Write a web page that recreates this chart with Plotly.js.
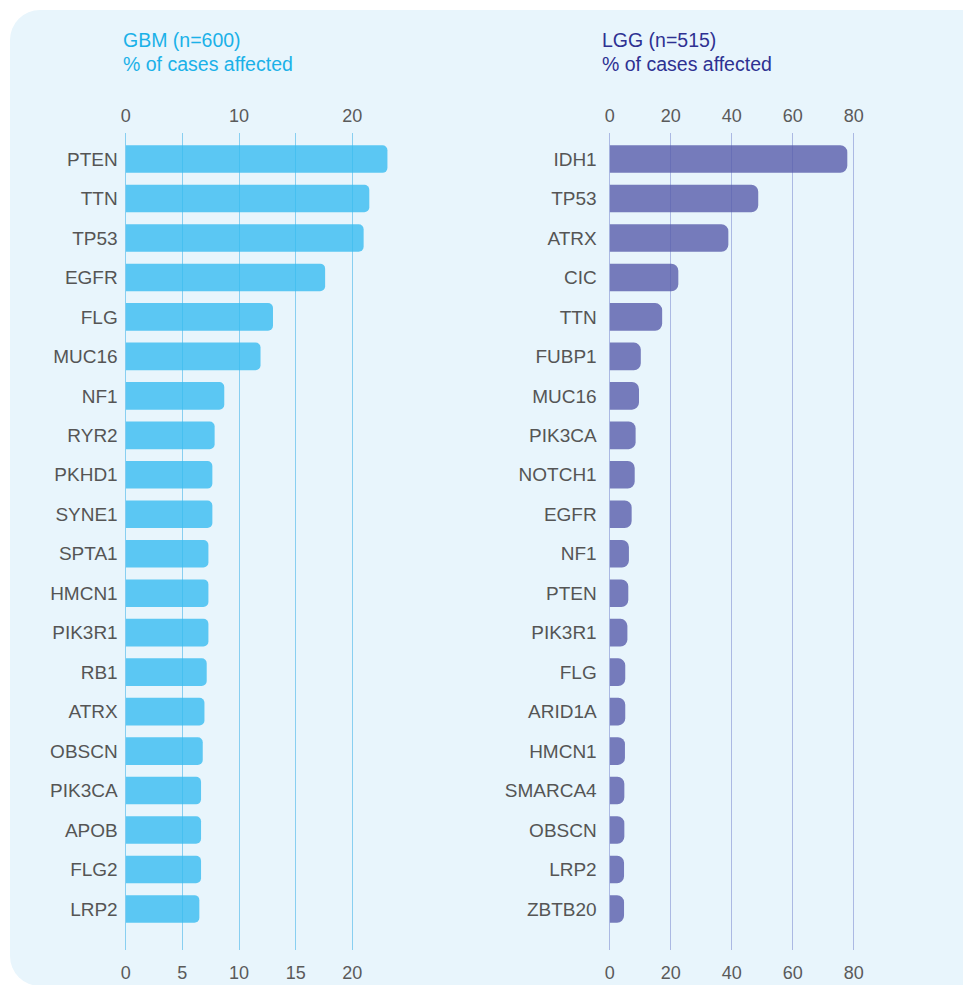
<!DOCTYPE html>
<html>
<head>
<meta charset="utf-8">
<script src="https://cdn.plot.ly/plotly-3.0.1.min.js"></script>
<style>
  html, body { margin: 0; padding: 0; background: #ffffff; }
  #bg { position: absolute; left: 10px; top: 10px; width: 990px; height: 976px;
        background: #e8f5fc; border-radius: 30px; }
  #chart { position: absolute; left: 0; top: 0; width: 963px; height: 985px; }
</style>
</head>
<body>
<div id="bg"></div>
<div id="chart"></div>
<script>
// ---- Data ----
const gbmGenes = ["PTEN","TTN","TP53","EGFR","FLG","MUC16","NF1","RYR2","PKHD1","SYNE1",
                  "SPTA1","HMCN1","PIK3R1","RB1","ATRX","OBSCN","PIK3CA","APOB","FLG2","LRP2"];
const gbmValues = [23.1, 21.5, 21.0, 17.6, 13.0, 11.9, 8.7, 7.85, 7.65, 7.65,
                   7.3, 7.3, 7.3, 7.15, 6.95, 6.8, 6.65, 6.65, 6.65, 6.5];
const lggGenes = ["IDH1","TP53","ATRX","CIC","TTN","FUBP1","MUC16","PIK3CA","NOTCH1","EGFR",
                  "NF1","PTEN","PIK3R1","FLG","ARID1A","HMCN1","SMARCA4","OBSCN","LRP2","ZBTB20"];
const lggValues = [77.9, 48.7, 38.9, 22.5, 17.2, 10.2, 9.6, 8.5, 8.2, 7.2,
                   6.3, 6.1, 5.8, 5.1, 5.1, 5.0, 4.8, 4.8, 4.7, 4.7];
const gbmTopTicks = [0, 10, 20];
const gbmBottomTicks = [0, 5, 10, 15, 20];
const lggTicks = [0, 20, 40, 60, 80];
const gbmTitle = ["GBM (n=600)", "% of cases affected"];
const lggTitle = ["LGG (n=515)", "% of cases affected"];

// ---- Layout geometry (pixels) ----
const W = 963, H = 985;
const px = v => v / W;
const py = v => 1 - v / H;
const gbmRange = [0, 25];
const gbmX0 = 125.7, gbmScale = 11.33;
const lggRange = [0, 85];
const lggX0 = 609.7, lggScale = 3.05;
const plotTop = 133, plotBottom = 950;

const tickFont = {family: "Liberation Sans, Arial, sans-serif", size: 18, color: "#5a5a5a"};
const catFont = {family: "Liberation Sans, Arial, sans-serif", size: 19, color: "#555555"};

const gbmColor = "rgba(55,188,240,0.8)";
const lggColor = "rgba(88,93,170,0.8)";
const gbmGrid = "rgba(40,170,230,0.5)";
const lggGrid = "rgba(120,135,205,0.55)";

const traces = [
  {type: "bar", orientation: "h", y: gbmGenes, x: gbmValues, xaxis: "x", yaxis: "y",
   width: 0.7, marker: {color: gbmColor, cornerradius: 5}, hoverinfo: "x+y"},
  {type: "bar", orientation: "h", y: lggGenes, x: lggValues, xaxis: "x2", yaxis: "y2",
   width: 0.7, marker: {color: lggColor, cornerradius: 7}, hoverinfo: "x+y"}
];

const yRange = [20.04, -0.66];
const gbmDom = [px(gbmX0), px(gbmX0 + (gbmRange[1]-gbmRange[0]) * gbmScale)];
const lggDom = [px(lggX0), px(lggX0 + (lggRange[1]-lggRange[0]) * lggScale)];
const yDom = [py(plotBottom), py(plotTop)];

function xAxis(dom, range, ticks, grid, anchor, extra) {
  return Object.assign({
    domain: dom, range: range, autorange: false, anchor: anchor,
    tickmode: "array", tickvals: ticks, ticktext: ticks.map(String),
    showgrid: true, gridcolor: grid, gridwidth: 1,
    zeroline: true, zerolinecolor: grid, zerolinewidth: 1,
    showline: false, ticks: "", tickfont: tickFont, ticklabelstandoff: 10,
    fixedrange: true
  }, extra || {});
}

const layout = {
  width: W, height: H,
  margin: {l: 0, r: 0, t: 0, b: 0},
  paper_bgcolor: "rgba(0,0,0,0)",
  plot_bgcolor: "rgba(0,0,0,0)",
  showlegend: false,
  bargap: 0.3,
  xaxis: xAxis(gbmDom, gbmRange, gbmBottomTicks, gbmGrid, "y", {side: "bottom"}),
  xaxis2: xAxis(lggDom, lggRange, lggTicks, lggGrid, "y2", {side: "bottom"}),
  xaxis3: xAxis(gbmDom, gbmRange, gbmTopTicks, gbmGrid, "y",
                {side: "top", overlaying: "x", showgrid: false, zeroline: false, ticklabelstandoff: 6}),
  xaxis4: xAxis(lggDom, lggRange, lggTicks, lggGrid, "y2",
                {side: "top", overlaying: "x2", showgrid: false, zeroline: false, ticklabelstandoff: 6}),
  yaxis: {domain: yDom, anchor: "x", type: "category", categoryorder: "array", categoryarray: gbmGenes,
          range: yRange, autorange: false, showgrid: false, zeroline: false, showline: false,
          ticks: "", tickfont: catFont, ticklabelstandoff: 7, fixedrange: true},
  yaxis2: {domain: yDom, anchor: "x2", type: "category", categoryorder: "array", categoryarray: lggGenes,
           range: yRange, autorange: false, showgrid: false, zeroline: false, showline: false,
           ticks: "", tickfont: catFont, ticklabelstandoff: 12, fixedrange: true},
  annotations: [
    {xref: "paper", yref: "paper", x: px(121), y: py(40), xanchor: "left", yanchor: "middle",
     text: gbmTitle[0], showarrow: false, font: {family: "Liberation Sans, Arial, sans-serif", size: 19.5, color: "#1bb1e8"}},
    {xref: "paper", yref: "paper", x: px(121), y: py(64), xanchor: "left", yanchor: "middle",
     text: gbmTitle[1], showarrow: false, font: {family: "Liberation Sans, Arial, sans-serif", size: 19.5, color: "#1bb1e8"}},
    {xref: "paper", yref: "paper", x: px(600), y: py(40), xanchor: "left", yanchor: "middle",
     text: lggTitle[0], showarrow: false, font: {family: "Liberation Sans, Arial, sans-serif", size: 19.5, color: "#2e3192"}},
    {xref: "paper", yref: "paper", x: px(600), y: py(64), xanchor: "left", yanchor: "middle",
     text: lggTitle[1], showarrow: false, font: {family: "Liberation Sans, Arial, sans-serif", size: 19.5, color: "#2e3192"}}
  ]
};

// transparent zero-length traces so the top axes are drawn
traces.push({type: "bar", orientation: "h", y: [gbmGenes[0]], x: [0], xaxis: "x3", yaxis: "y",
             marker: {color: "rgba(0,0,0,0)"}, hoverinfo: "skip", showlegend: false});
traces.push({type: "bar", orientation: "h", y: [lggGenes[0]], x: [0], xaxis: "x4", yaxis: "y2",
             marker: {color: "rgba(0,0,0,0)"}, hoverinfo: "skip", showlegend: false});

Plotly.newPlot("chart", traces, layout, {displayModeBar: false, staticPlot: true});
</script>
</body>
</html>
